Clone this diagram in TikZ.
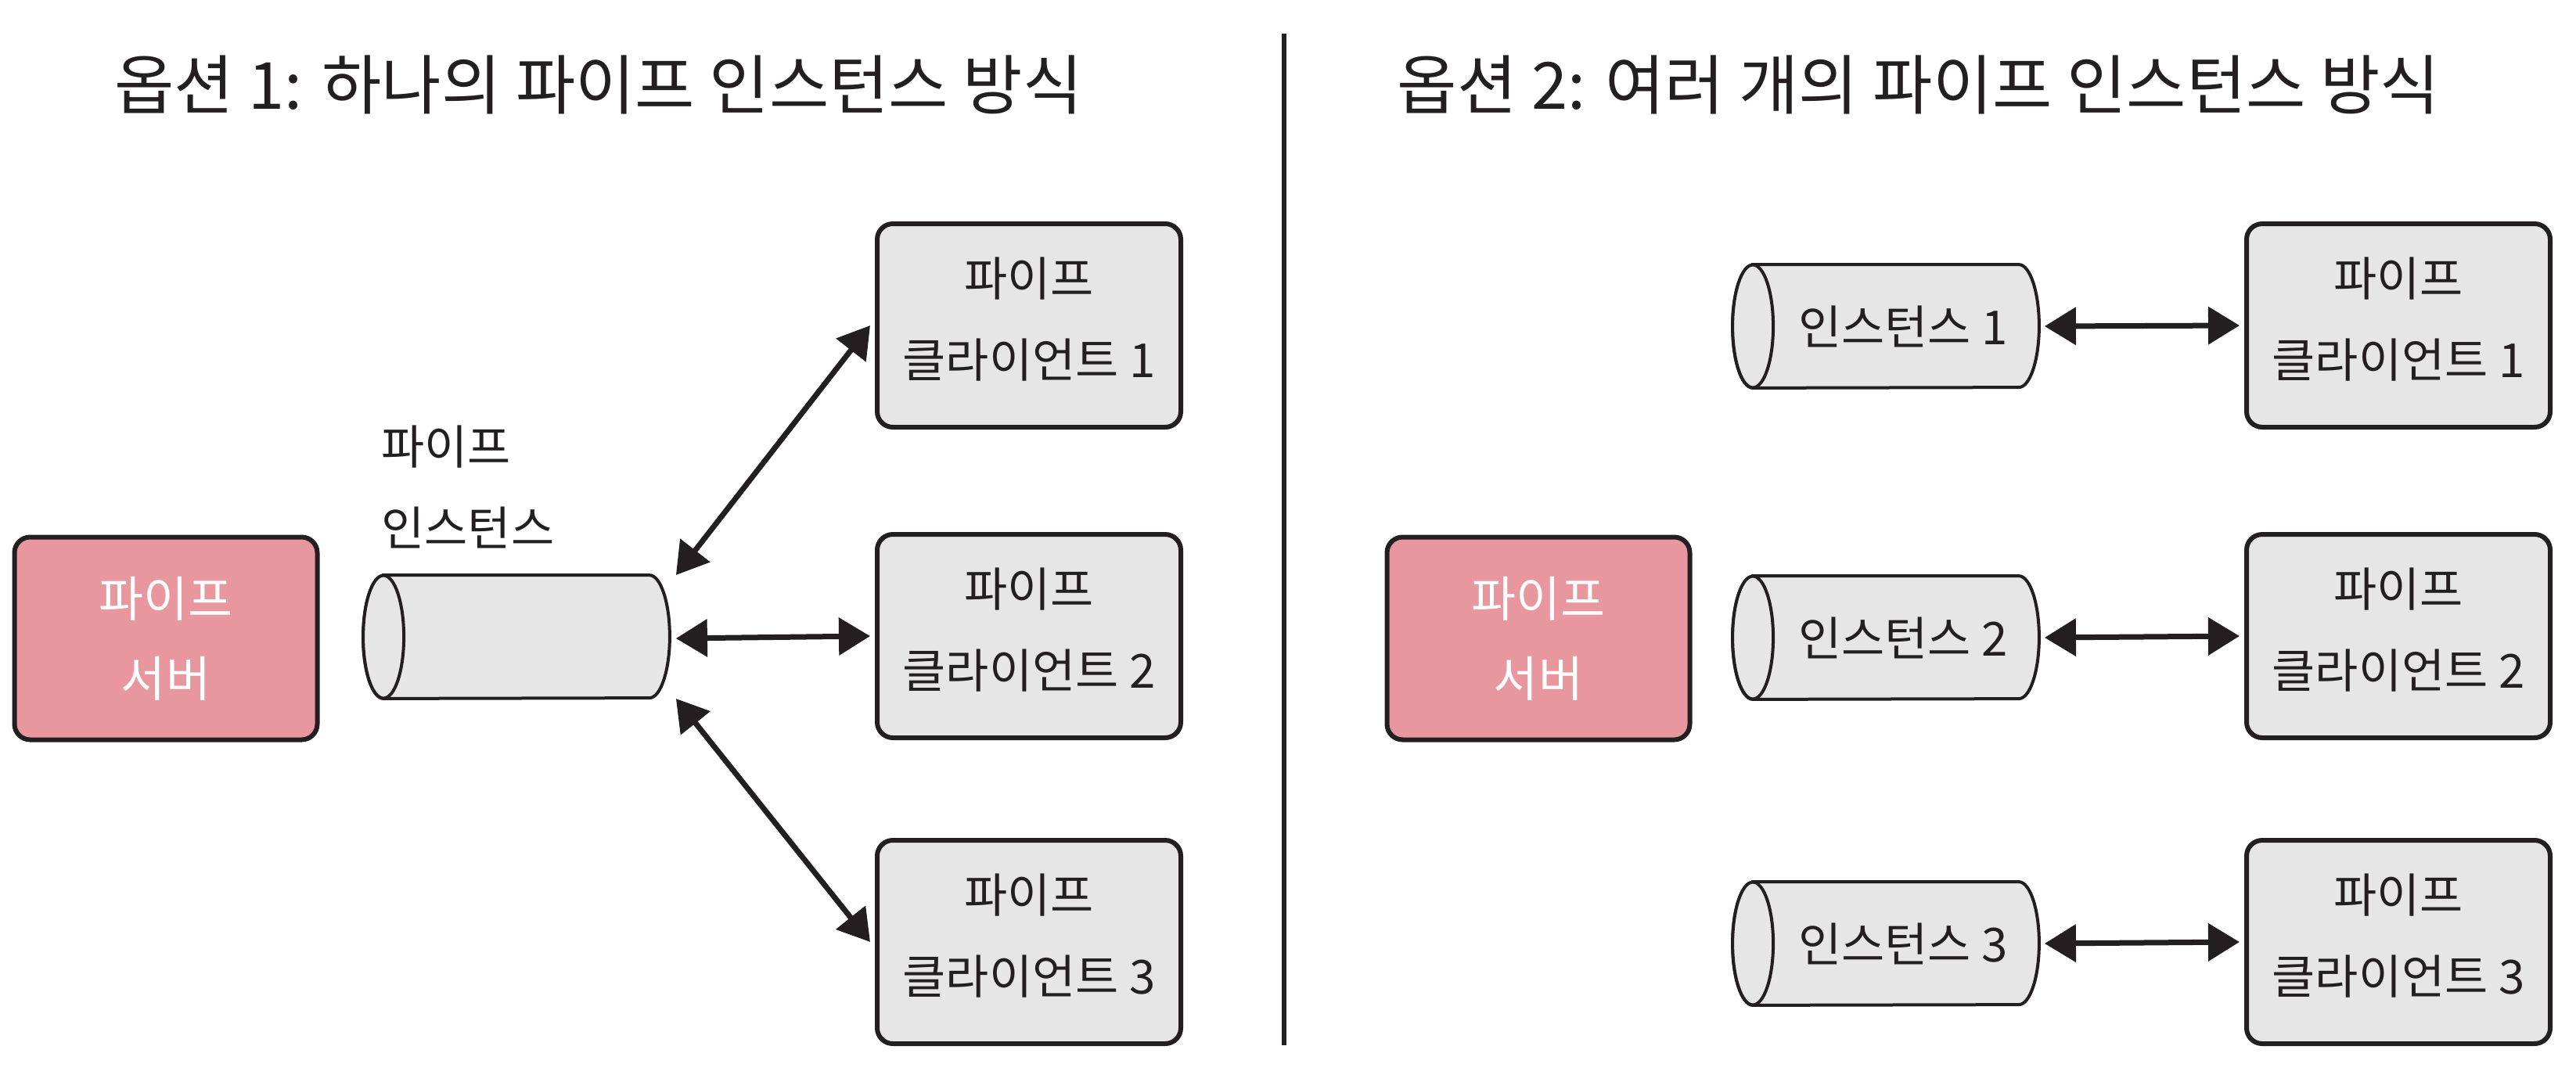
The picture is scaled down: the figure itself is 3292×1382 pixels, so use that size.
\documentclass[tikz,border=0pt]{standalone}
\usepackage{fontspec}
\setmainfont{Noto Sans CJK KR}
\usetikzlibrary{calc,arrows.meta}
\definecolor{pinkfill}{RGB}{232,151,159}
\definecolor{boxgray}{RGB}{230,230,230}
\definecolor{ink}{RGB}{35,31,32}
\newcommand\pipeoutline[1]{%
  \filldraw[pipeline] ($(#1.north west)+(26,0)$) -- ($(#1.north east)+(-26,0)$)
     arc[start angle=-90,end angle=90,x radius=26,y radius=78.5]
     -- ($(#1.south west)+(26,0)$)
     arc[start angle=90,end angle=270,x radius=26,y radius=78.5] -- cycle;
  \filldraw[pipeline] ($(#1.west)+(26,0)$) ellipse[x radius=26,y radius=78.5];
}
\begin{document}
\begin{tikzpicture}[x=0.5pt,y=-0.5pt,
  titletext/.style={font=\fontsize{41.5}{48}\selectfont, text=ink, inner sep=0pt},
  labeltext/.style={font=\fontsize{30}{52}\selectfont, text=ink, inner sep=0pt, align=left},
  boxtext/.style={font=\fontsize{30}{52}\selectfont, text=ink, inner sep=0pt, align=center},
  clientbox/.style={draw=ink, line width=3pt, fill=boxgray, rounded corners=10pt,
    minimum width=194pt, minimum height=130pt, inner sep=0pt},
  serverbox/.style={draw=ink, line width=3pt, fill=pinkfill, rounded corners=10pt,
    minimum width=193.5pt, minimum height=129.5pt, align=center,
    font=\fontsize{31}{51}\selectfont, text=white, inner sep=0pt},
  pipebox/.style={draw=none, minimum width=195.5pt, minimum height=78.5pt, inner sep=0pt},
  pipeline/.style={draw=ink, fill=boxgray, line width=2pt},
  link/.style={draw=ink, line width=3.5pt, {Triangle[length=20pt,width=23.5pt]}-{Triangle[length=20pt,width=23.5pt]}},
  divider/.style={draw=ink, line width=3pt}
]
\useasboundingbox (0,0) rectangle (3292,1382);

% titles
\node[titletext] (t1) at (765,108) {옵션 1: 하나의 파이프 인스턴스 방식};
\node[titletext] (t2) at (2452,108) {옵션 2: 여러 개의 파이프 인스턴스 방식};

% divider
\coordinate (dtop) at (1641,43);
\coordinate (dbot) at (1641,1336);
\draw[divider] (dtop) -- (dbot);

% ---- option 1 ----
\node[serverbox] (srvL) at (212,816) {파이프\\서버};
\node[pipebox] (pipe) at (660,814) {};
\pipeoutline{pipe}
\node[labeltext, anchor=west] (plabel) at (487,622) {파이프\\인스턴스};

\node[clientbox] (cl1) at (1315,416) {};
\node[clientbox] (cl2) at (1315,813) {};
\node[clientbox] (cl3) at (1315,1204) {};
\node[boxtext] (cl1t) at ([yshift=4pt]cl1.center) {파이프\\클라이언트 1};
\node[boxtext] (cl2t) at ([yshift=4pt]cl2.center) {파이프\\클라이언트 2};
\node[boxtext] (cl3t) at ([yshift=4pt]cl3.center) {파이프\\클라이언트 3};

\coordinate (pa1) at ($(pipe.east)+(8,-79)$);
\coordinate (pa2) at ($(pipe.east)+(8,2)$);
\coordinate (pa3) at ($(pipe.east)+(8,79)$);
\draw[link] (pa1) -- ([xshift=-3pt]cl1.west);
\draw[link] (pa2) -- ([xshift=-3pt]cl2.west);
\draw[link] (pa3) -- ([xshift=-3pt]cl3.west);

% ---- option 2 ----
\node[serverbox] (srvR) at (1966,816) {파이프\\서버};
\node[pipebox] (in1) at (2410,417) {};
\node[pipebox] (in2) at (2410,815) {};
\node[pipebox] (in3) at (2410,1206) {};
\pipeoutline{in1}
\pipeoutline{in2}
\pipeoutline{in3}
\node[boxtext] (in1t) at ([xshift=11pt]in1.center) {인스턴스 1};
\node[boxtext] (in2t) at ([xshift=11pt]in2.center) {인스턴스 2};
\node[boxtext] (in3t) at ([xshift=11pt]in3.center) {인스턴스 3};

\node[clientbox] (cr1) at (3065,416) {};
\node[clientbox] (cr2) at (3065,813) {};
\node[clientbox] (cr3) at (3065,1204) {};
\node[boxtext] (cr1t) at ([yshift=4pt]cr1.center) {파이프\\클라이언트 1};
\node[boxtext] (cr2t) at ([yshift=4pt]cr2.center) {파이프\\클라이언트 2};
\node[boxtext] (cr3t) at ([yshift=4pt]cr3.center) {파이프\\클라이언트 3};

\draw[link] ([xshift=3.5pt]in1.east) -- ([xshift=-3pt]cr1.west);
\draw[link] ([xshift=3.5pt]in2.east) -- ([xshift=-3pt]cr2.west);
\draw[link] ([xshift=3.5pt]in3.east) -- ([xshift=-3pt]cr3.west);
\end{tikzpicture}
\end{document}
